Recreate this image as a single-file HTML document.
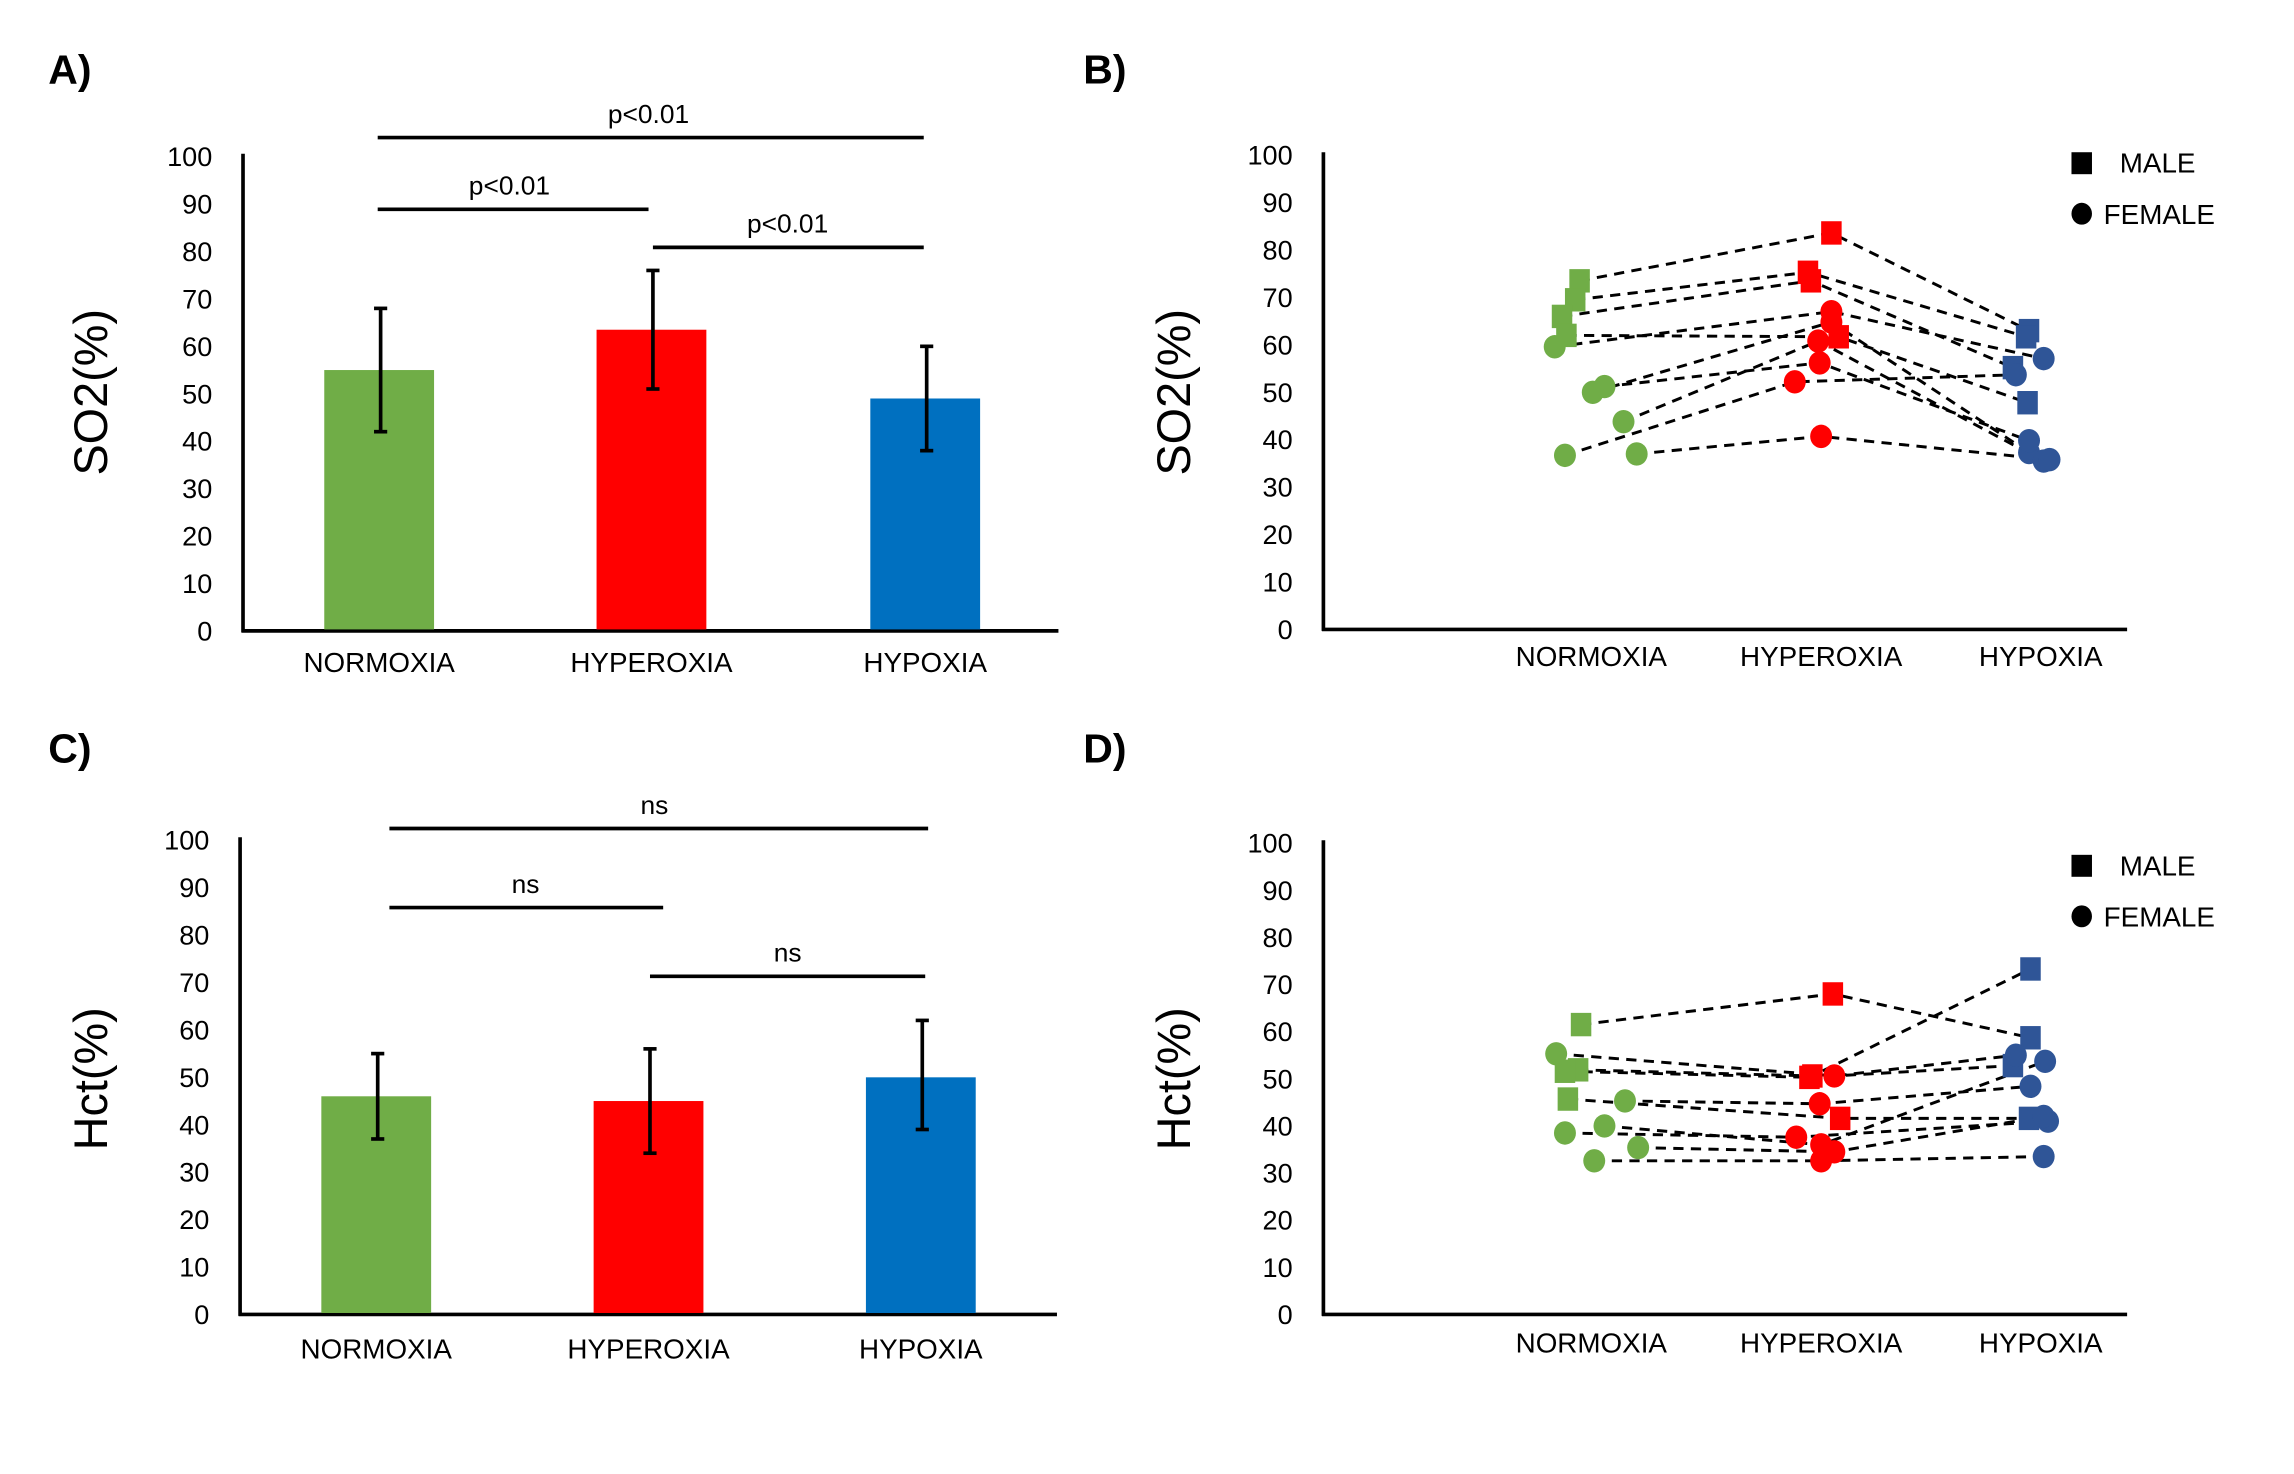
<!DOCTYPE html>
<html><head><meta charset="utf-8"><style>
html,body{margin:0;padding:0;background:#fff}
svg{display:block;font-family:"Liberation Sans",sans-serif}
</style></head><body>
<svg id="fig" width="2294" height="1474" viewBox="0 0 1567 1007" preserveAspectRatio="none" xmlns="http://www.w3.org/2000/svg"></svg>
<script>
const categories=["NORMOXIA","HYPEROXIA","HYPOXIA"];
const yTicks=[0,10,20,30,40,50,60,70,80,90,100];
const so2Means=[55,63.5,49];
const so2ErrLow=[42,51,38];
const so2ErrHigh=[68,76,60];
const hctMeans=[46,45,50];
const hctErrLow=[37,34,39];
const hctErrHigh=[55,56,62];
const so2SigLabels=["p<0.01","p<0.01","p<0.01"];
const hctSigLabels=["ns","ns","ns"];
// paired subjects: [normoxia, hyperoxia, hypoxia]
const so2Male=[[73.5,83.6,63],[69.5,75.3,61.7],[66,73.5,55.2],[62,61.7,47.8]];
const so2Female=[[59.6,67,57.1],[50,64.8,37.3],[51.2,56.2,39.8],[43.8,60.8,35.5],[36.7,52.2,53.7],[37,40.7,35.8]];
const hctMale=[[61.5,68,58.7],[51.9,50.6,73.3],[51.6,50.3,52.8],[45.7,41.6,41.6]];
const hctFemale=[[55.3,50.6,55],[45.3,44.7,48.4],[38.5,37.6,41],[40,36,53.7],[35.4,34.5,42],[32.6,32.6,33.5]];
// horizontal jitter (display px) per subject per group
const jitMale=[[-8,7,-8],[-11,-9,-10],[-20,-7,-19],[-17,12,-9]];
const jitFemale=[[-25,7,2],[1,7,-8],[9,-1,-8],[22,-2,2],[-18,-18,-17],[31,0,6]];
const jitMaleD=[[-7,8,-7],[-9,-6,-7],[-18,-8,-19],[-16,13,-8]];
const jitFemaleD=[[-24,9,-17],[23,-1,-7],[-18,-17,5],[9,0,3],[32,9,2],[2,0,2]];

const NS="http://www.w3.org/2000/svg";
const svg=document.getElementById('fig');
function mk(tag,attrs,parent){const e=document.createElementNS(NS,tag);for(const k in attrs)e.setAttribute(k,attrs[k]);(parent||svg).appendChild(e);return e;}
function txt(s,attrs,parent){const e=mk('text',attrs,parent);e.textContent=s;return e;}

function axes(g,cfg){
  const y=v=>cfg.y0-(v/100)*(cfg.y0-cfg.y100);
  const ax=mk('line',{x1:cfg.ax,y1:cfg.y100-2,x2:cfg.ax,y2:cfg.y0+1,stroke:'#000','stroke-width':2.5},g);
  
  
  const bx=mk('line',{x1:cfg.ax-1,y1:cfg.y0,x2:cfg.axEnd,y2:cfg.y0,stroke:'#000','stroke-width':2.5},g);
  
  
  yTicks.forEach(t=>{
    const e=txt(String(t),{x:cfg.ax-21,y:y(t)+6.5,'text-anchor':'end','font-size':18.5,fill:'#000'},g);
    
    
  });
  categories.forEach((c,i)=>{
    const e=txt(c,{x:cfg.cx[i],y:cfg.labelY,'text-anchor':'middle','font-size':19,fill:'#000'},g);
    
    
  });
  const t=txt(cfg.title,{x:0,y:0,'text-anchor':'middle','font-size':32,fill:'#000',transform:`translate(${cfg.titleX},${cfg.titleY}) rotate(-90)`},g);
  
  
  const p=txt(cfg.panel,{x:cfg.panelX,y:cfg.panelY,'font-size':28,'font-weight':'bold',fill:'#000'},g);
  
  
  return y;
}

const barColors=['#70ad47','#ff0000','#0070c0'];
function barPanel(cfg,means,lo,hi,sig){
  const g=mk('g',{});
  
  
  const y=axes(g,cfg);
  means.forEach((m,i)=>{
    const r=mk('rect',{x:cfg.cx[i]-37.5,y:y(m),width:75,height:y(0)-y(m)-1,fill:barColors[i]},g);
    
    
    const eg=mk('g',{stroke:'#000','stroke-width':2.5},g);
    
    
    mk('line',{x1:cfg.cx[i]+1,y1:y(lo[i]),x2:cfg.cx[i]+1,y2:y(hi[i])},eg);
    mk('line',{x1:cfg.cx[i]-3.5,y1:y(lo[i]),x2:cfg.cx[i]+5.5,y2:y(lo[i])},eg);
    mk('line',{x1:cfg.cx[i]-3.5,y1:y(hi[i]),x2:cfg.cx[i]+5.5,y2:y(hi[i])},eg);
  });
  cfg.sig.forEach((s,i)=>{
    const l=mk('line',{x1:s[0],y1:s[2],x2:s[1],y2:s[2],stroke:'#000','stroke-width':2.5},g);
    
    
    const e=txt(sig[i],{x:s[3],y:s[2]-10,'text-anchor':'middle','font-size':18,fill:'#000'},g);
    
    
  });
}

const scatColors=['#70ad47','#ff0000','#2f5597'];
function scatterPanel(cfg,male,female,jm,jf){
  const g=mk('g',{});
  
  
  const y=axes(g,cfg);
  const lg=mk('g',{},g);
  
  
  const subj=[];
  male.forEach((s,k)=>subj.push({v:s,j:jm[k],m:1}));
  female.forEach((s,k)=>subj.push({v:s,j:jf[k],m:0}));
  subj.forEach(s=>{
    const pts=s.v.map((v,i)=>`${cfg.cx[i]+s.j[i]},${y(v)}`).join(' ');
    const pl=mk('polyline',{points:pts,fill:'none',stroke:'#000','stroke-width':2,'stroke-dasharray':'7,5'},lg);
    
    
  });
  subj.forEach(s=>{
    s.v.forEach((v,i)=>{
      const x=cfg.cx[i]+s.j[i],yy=y(v);
      let e;
      if(s.m){e=mk('rect',{x:x-7,y:yy-8,width:14,height:16,fill:scatColors[i]},g);
        }
      else{e=mk('ellipse',{cx:x,cy:yy,rx:7.5,ry:8,fill:scatColors[i]},g);
        }
      
    });
  });
  const leg=mk('g',{},g);
  
  
  const a=mk('rect',{x:1415,y:cfg.legY-7,width:14,height:15,fill:'#000'},leg);
  
  
  const at=txt('MALE',{x:1448,y:cfg.legY+7,'font-size':19,fill:'#000'},leg);
  
  
  const b=mk('ellipse',{cx:1422,cy:cfg.legY+35,rx:7,ry:7.5,fill:'#000'},leg);
  
  
  const bt=txt('FEMALE',{x:1437,y:cfg.legY+42,'font-size':19,fill:'#000'},leg);
  
  
}

barPanel({name:'panel-a-so2-bars',ax:166,axEnd:723,y0:431,y100:107,cx:[259,445,632],labelY:459,title:'SO2(%)',titleX:73,titleY:268,panel:'A)',panelX:33,panelY:57,
  sig:[[258,631,94,443],[258,443,143,348],[446,631,169,538]]},so2Means,so2ErrLow,so2ErrHigh,so2SigLabels);
barPanel({name:'panel-c-hct-bars',ax:164,axEnd:722,y0:898,y100:574,cx:[257,443,629],labelY:928,title:'Hct(%)',titleX:73,titleY:737,panel:'C)',panelX:33,panelY:521,
  sig:[[266,634,566,447],[266,453,620,359],[444,632,667,538]]},hctMeans,hctErrLow,hctErrHigh,hctSigLabels);
scatterPanel({name:'panel-b-so2-paired',ax:904,axEnd:1453,y0:430,y100:106,cx:[1087,1244,1394],labelY:455,title:'SO2(%)',titleX:813,titleY:268,panel:'B)',panelX:740,panelY:57,legY:111},so2Male,so2Female,jitMale,jitFemale);
scatterPanel({name:'panel-d-hct-paired',ax:904,axEnd:1453,y0:898,y100:576,cx:[1087,1244,1394],labelY:924,title:'Hct(%)',titleX:813,titleY:737,panel:'D)',panelX:740,panelY:521,legY:591},hctMale,hctFemale,jitMaleD,jitFemaleD);
</script>
</body></html>
